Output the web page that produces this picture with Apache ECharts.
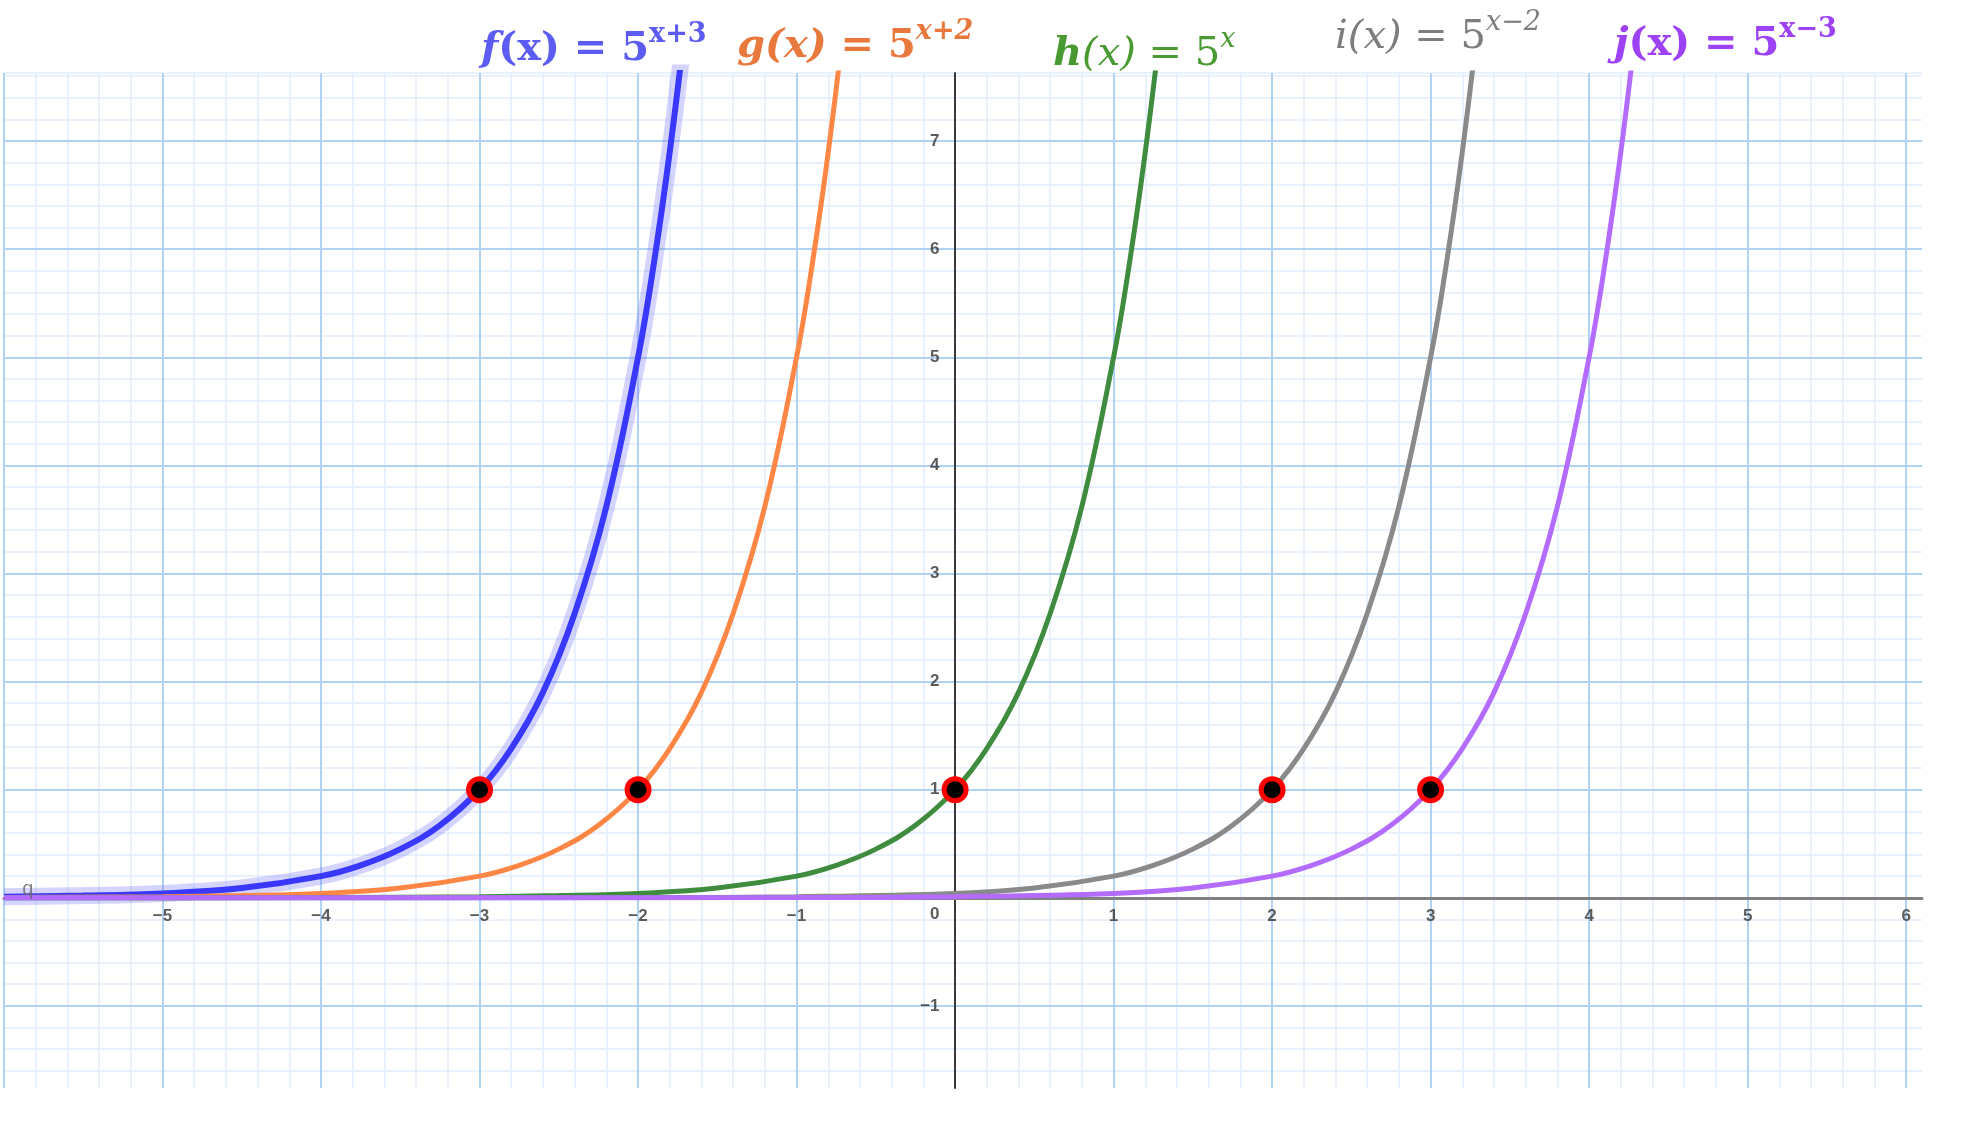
<!DOCTYPE html>
<html>
<head>
<meta charset="utf-8">
<script src="https://cdn.jsdelivr.net/npm/echarts@6/dist/echarts.min.js"></script>
<style>
html,body{margin:0;padding:0;background:#fff;}
#chart{width:1970px;height:1131px;}
</style>
</head>
<body>
<div id="chart"></div>
<script>
// ---- data ----
const fX = [-6, -5.5, -5, -4.5, -4, -3.75, -3.5, -3.25, -3, -2.8, -2.6, -2.4, -2.2, -2, -1.9, -1.8, -1.7];
const fY = [0.01, 0.02, 0.04, 0.09, 0.2, 0.3, 0.45, 0.67, 1, 1.38, 1.9, 2.63, 3.62, 5, 5.87, 6.9, 8.1];

const gX = [-6, -5, -4.5, -4, -3.5, -3, -2.75, -2.5, -2.25, -2, -1.8, -1.6, -1.4, -1.2, -1, -0.9, -0.8, -0.7];
const gY = [0.002, 0.01, 0.02, 0.04, 0.09, 0.2, 0.3, 0.45, 0.67, 1, 1.38, 1.9, 2.63, 3.62, 5, 5.87, 6.9, 8.1];

const hX = [-6, -4, -3, -2.5, -2, -1.5, -1, -0.75, -0.5, -0.25, 0, 0.2, 0.4, 0.6, 0.8, 1, 1.1, 1.2, 1.3];
const hY = [0, 0.002, 0.01, 0.02, 0.04, 0.09, 0.2, 0.3, 0.45, 0.67, 1, 1.38, 1.9, 2.63, 3.62, 5, 5.87, 6.9, 8.1];

const iX = [-6, -2, -1, 0, 0.5, 1, 1.25, 1.5, 1.75, 2, 2.2, 2.4, 2.6, 2.8, 3, 3.1, 3.2, 3.3];
const iY = [0, 0.002, 0.01, 0.04, 0.09, 0.2, 0.3, 0.45, 0.67, 1, 1.38, 1.9, 2.63, 3.62, 5, 5.87, 6.9, 8.1];

const jX = [-6, -1, 0, 1, 1.5, 2, 2.25, 2.5, 2.75, 3, 3.2, 3.4, 3.6, 3.8, 4, 4.1, 4.2, 4.3];
const jY = [0, 0.002, 0.01, 0.04, 0.09, 0.2, 0.3, 0.45, 0.67, 1, 1.38, 1.9, 2.63, 3.62, 5, 5.87, 6.9, 8.1];

const pointX = [-3, -2, 0, 2, 3];
const pointY = [1, 1, 1, 1, 1];

// tick labels shown beside the axes
const xTickValues = [-5, -4, -3, -2, -1, 1, 2, 3, 4, 5, 6];
const yTickValues = [-1, 1, 2, 3, 4, 5, 6, 7];

const xRange = [-6, 6.1];
const yRange = [-1.76, 7.63];

// ---- helpers ----
const pairs = (xs, ys) => xs.map((x, k) => [x, ys[k]]);
const minus = v => (v < 0 ? '\u2212' + Math.abs(v) : String(v));

const chart = echarts.init(document.getElementById('chart'), null, {renderer: 'canvas'});

const MAJOR = '#b0d2f5';
const MINOR = '#e2eefb';
const labelFont = {fontFamily: 'Liberation Sans', fontWeight: 'bold', fontSize: 17, color: '#333'};

function curve(name, xs, ys, color, width, z) {
  return {
    name, type: 'line', xAxisIndex: 0, yAxisIndex: 0,
    data: pairs(xs, ys), smooth: 0.4,
    showSymbol: false, symbol: 'none', clip: true, z: z || 3,
    lineStyle: {color, width}, silent: true
  };
}

function tickLabels(name, data, position, distance, fmt, offset) {
  return {
    name, type: 'scatter', xAxisIndex: 0, yAxisIndex: 0,
    data, symbolSize: 1, z: 4, silent: true,
    itemStyle: {color: 'rgba(0,0,0,0)'},
    label: Object.assign({show: true, position, distance, offset: offset || [0, 0],
      formatter: fmt}, labelFont)
  };
}

const serif = 'DejaVu Serif';
function titleText(x, y, color, parts) {
  const base = {fontFamily: serif, fill: color};
  return {
    type: 'text', x, y, z: 100,
    style: {
      text: parts.map(p => '{' + p[0] + '|' + p[1] + '}').join(''),
      fill: color,
      align: 'left', verticalAlign: 'middle',
      rich: {
        nb: Object.assign({fontSize: 40, fontWeight: 'bold', lineHeight: 58}, base),
        nbi: Object.assign({fontSize: 40, fontWeight: 'bold', fontStyle: 'italic', lineHeight: 58}, base),
        ni: Object.assign({fontSize: 40, fontStyle: 'italic', lineHeight: 58}, base),
        n: Object.assign({fontSize: 40, lineHeight: 58}, base),
        sb: Object.assign({fontSize: 27, fontWeight: 'bold', lineHeight: 22, verticalAlign: 'top'}, base),
        sbi: Object.assign({fontSize: 27, fontWeight: 'bold', fontStyle: 'italic', lineHeight: 22, verticalAlign: 'top'}, base),
        si: Object.assign({fontSize: 27, fontStyle: 'italic', lineHeight: 22, verticalAlign: 'top'}, base)
      }
    }
  };
}

const option = {
  backgroundColor: '#ffffff',
  animation: false,
  grid: {left: 4, right: 48, top: 73, bottom: 43, containLabel: false, outerBoundsMode: 'none'},
  xAxis: [
    {
      type: 'value', min: xRange[0], max: xRange[1], interval: 1, z: 1,
      axisLine: {onZero: true, onZeroAxisIndex: 0, lineStyle: {color: '#808080', width: 3}},
      axisTick: {show: false},
      axisLabel: {show: false},
      splitLine: {show: true, showMaxLine: false, lineStyle: {color: MAJOR, width: 2}}
    },
    {
      type: 'value', min: xRange[0], max: xRange[1], interval: 0.2, z: 0,
      axisLine: {show: false, onZero: false}, axisTick: {show: false}, axisLabel: {show: false},
      splitLine: {show: true, showMaxLine: false, lineStyle: {color: MINOR, width: 1.5}}
    }
  ],
  yAxis: [
    {
      type: 'value', min: yRange[0], max: yRange[1], minInterval: 1, maxInterval: 1, z: 1,
      axisLine: {onZero: true, onZeroAxisIndex: 0, lineStyle: {color: '#3a3a3a', width: 2}},
      axisTick: {show: false},
      axisLabel: {show: false},
      splitLine: {show: true, showMinLine: false, showMaxLine: false, lineStyle: {color: MAJOR, width: 2}}
    },
    {
      type: 'value', min: yRange[0], max: yRange[1], minInterval: 0.2, maxInterval: 0.2, z: 0,
      position: 'left',
      axisLine: {show: false, onZero: false}, axisTick: {show: false}, axisLabel: {show: false},
      splitLine: {show: true, showMinLine: false, lineStyle: {color: MINOR, width: 1.5}}
    }
  ],
  graphic: [
    titleText(481, 50, '#5c5cf2', [['nbi', 'f'], ['nb', '(x) = 5'], ['sb', 'x+3']]),
    titleText(737, 47, '#e8783c', [['nbi', 'g(x)'], ['nb', ' = 5'], ['sbi', 'x+2']]),
    titleText(1053, 55, '#4a9a32', [['nbi', 'h'], ['ni', '(x)'], ['n', ' = 5'], ['si', 'x']]),
    titleText(1335, 38, '#7d7d7d', [['ni', 'i(x)'], ['n', ' = 5'], ['si', 'x\u22122']]),
    titleText(1614, 45, '#9d42f5', [['nbi', 'j'], ['nb', '(x) = 5'], ['sb', 'x\u22123']])
  ],
  series: [
    curve('fHalo', fX, fY, 'rgba(120,120,255,0.32)', 17, 2),
    curve('f', fX, fY, '#3838ff', 6, 3),
    curve('g', gX, gY, '#ff8746', 5, 3),
    curve('h', hX, hY, '#3f8c3f', 5, 3),
    curve('i', iX, iY, '#8a8a8a', 5, 3),
    curve('j', jX, jY, '#b36cff', 5, 3),
    tickLabels('xTicks', xTickValues.map(v => [v, 0]), 'bottom', 10, p => minus(p.value[0])),
    tickLabels('yTicks', yTickValues.map(v => [0, v]), 'left', 15, p => minus(p.value[1])),
    tickLabels('origin', [[0, 0]], 'left', 15, () => '0', [0, 17]),
    {
      name: 'points', type: 'scatter', xAxisIndex: 0, yAxisIndex: 0,
      data: pairs(pointX, pointY), symbol: 'circle', symbolSize: 22, z: 10,
      itemStyle: {color: '#000000', borderColor: '#ff0000', borderWidth: 5, opacity: 1}
    },
    {
      name: 'q', type: 'scatter', xAxisIndex: 0, yAxisIndex: 0,
      data: [[-5.85, 0]], symbolSize: 1, z: 10,
      itemStyle: {color: 'rgba(0,0,0,0)'},
      label: {show: true, formatter: 'q', position: 'top', distance: -2,
        fontFamily: 'Liberation Sans', fontSize: 20, color: '#666'}
    }
  ]
};
chart.setOption(option);
</script>
</body>
</html>
